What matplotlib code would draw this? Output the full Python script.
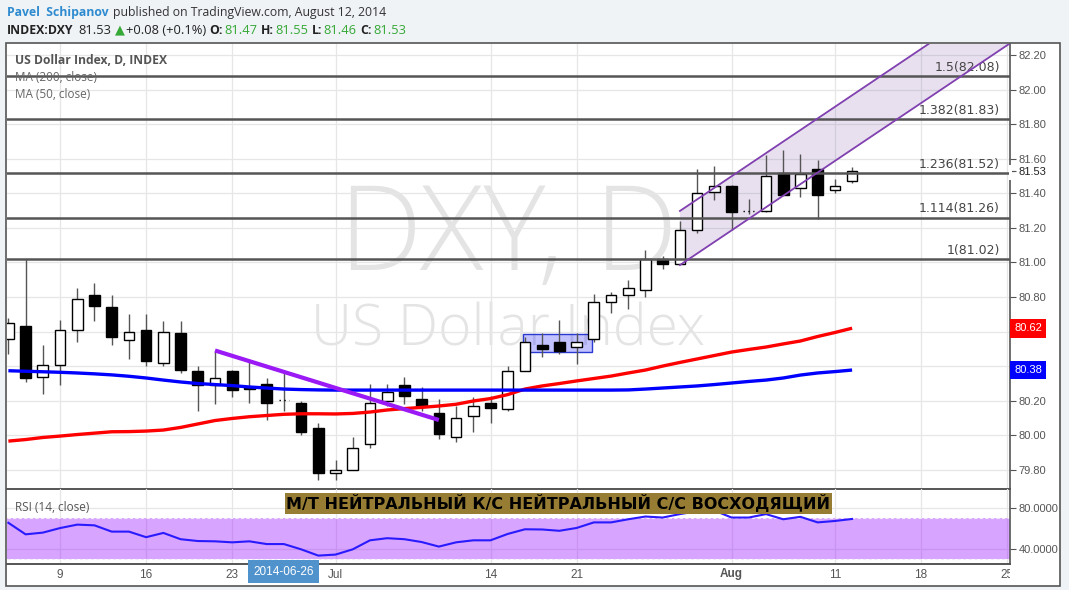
import numpy as np
import pandas as pd
import matplotlib
matplotlib.use("Agg")
import matplotlib.pyplot as plt
from matplotlib.patches import Rectangle, Polygon
from matplotlib.transforms import blended_transform_factory, Bbox, TransformedBbox

W, H = 1069, 590

# ---- data (daily candles, 2014-06-04 .. 2014-08-12) ----
dates = pd.bdate_range("2014-06-04", "2014-08-12")

opens = [80.56, 80.63, 80.34, 80.41, 80.61, 80.81, 80.74, 80.55, 80.61, 80.42,
         80.59, 80.37, 80.29, 80.37, 80.28, 80.30, 80.205, 80.19, 80.04, 79.78,
         79.80, 79.95, 80.20, 80.29, 80.21, 80.13, 79.99, 80.11, 80.19, 80.15,
         80.37, 80.52, 80.54, 80.51, 80.56, 80.77, 80.81, 80.84, 81.02, 80.99,
         81.19, 81.41, 81.44, 81.30, 81.30, 81.52, 81.43, 81.54, 81.42, 81.47]
highs = [80.68, 81.02, 80.52, 80.67, 80.85, 80.88, 80.81, 80.70, 80.70, 80.66,
         80.66, 80.40, 80.49, 80.38, 80.43, 80.33, 80.37, 80.20, 80.07, 79.86,
         79.99, 80.30, 80.30, 80.34, 80.28, 80.21, 80.17, 80.22, 80.23, 80.40,
         80.57, 80.59, 80.67, 80.59, 80.82, 80.83, 80.90, 81.07, 81.04, 81.24,
         81.54, 81.56, 81.45, 81.37, 81.62, 81.65, 81.63, 81.59, 81.48, 81.55]
lows = [80.47, 80.31, 80.24, 80.29, 80.54, 80.66, 80.52, 80.44, 80.40, 80.40,
        80.36, 80.14, 80.18, 80.22, 80.19, 80.09, 80.14, 80.00, 79.74, 79.74,
        79.80, 79.93, 80.17, 80.18, 80.14, 79.98, 79.96, 80.02, 80.07, 80.14,
        80.37, 80.455, 80.47, 80.415, 80.54, 80.71, 80.73, 80.80, 80.96, 80.99,
        81.17, 81.36, 81.19, 81.28, 81.29, 81.39, 81.38, 81.25, 81.40, 81.46]
closes = [80.65, 80.33, 80.41, 80.61, 80.79, 80.75, 80.57, 80.60, 80.43, 80.60,
          80.38, 80.29, 80.33, 80.26, 80.27, 80.19, 80.205, 80.02, 79.78, 79.80,
          79.93, 80.19, 80.25, 80.23, 80.17, 80.01, 80.10, 80.17, 80.16, 80.37,
          80.54, 80.50, 80.49, 80.54, 80.77, 80.81, 80.85, 81.02, 80.99, 81.19,
          81.40, 81.44, 81.29, 81.30, 81.50, 81.39, 81.51, 81.39, 81.44, 81.53]

ma50 = [79.967, 79.976, 79.988, 79.996, 80.005, 80.013, 80.021, 80.022, 80.025, 80.031,
        80.046, 80.066, 80.086, 80.098, 80.108, 80.115, 80.122, 80.125, 80.125, 80.124,
        80.127, 80.135, 80.147, 80.155, 80.162, 80.170, 80.180, 80.199, 80.213, 80.236,
        80.268, 80.286, 80.300, 80.315, 80.329, 80.343, 80.361, 80.378, 80.401, 80.422,
        80.442, 80.462, 80.482, 80.497, 80.511, 80.529, 80.546, 80.572, 80.595, 80.620]
ma200 = [80.374, 80.371, 80.368, 80.365, 80.361, 80.356, 80.350, 80.342, 80.332, 80.320,
         80.309, 80.300, 80.294, 80.288, 80.280, 80.274, 80.268, 80.265, 80.263, 80.262,
         80.262, 80.262, 80.262, 80.262, 80.262, 80.262, 80.262, 80.262, 80.262, 80.262,
         80.262, 80.262, 80.262, 80.262, 80.262, 80.262, 80.263, 80.268, 80.274, 80.280,
         80.286, 80.294, 80.303, 80.312, 80.320, 80.332, 80.349, 80.361, 80.369, 80.378]

rsi = [65.5, 54.1, 55.8, 60.3, 63.7, 63.0, 56.8, 56.8, 51.3, 55.5,
       49.3, 47.5, 47.2, 46.2, 47.2, 44.5, 44.5, 39.3, 33.1, 34.1,
       39.3, 48.2, 50.3, 49.3, 46.5, 42.0, 46.2, 48.2, 48.2, 54.5,
       59.1, 58.9, 57.6, 60.4, 65.9, 65.9, 69.0, 71.7, 70.7, 74.1,
       76.9, 77.6, 70.7, 70.7, 74.1, 69.0, 71.4, 65.9, 67.3, 69.3]

fib_levels = [81.02, 81.26, 81.52, 81.83, 82.08]
fib_labels = ["1(81.02)", "1.114(81.26)", "1.236(81.52)", "1.382(81.83)", "1.5(82.08)"]

# drawings (date, price)
trend_pts = [("2014-06-20", 80.491), ("2014-07-09", 80.089)]
channel_lower = [("2014-07-29", 80.985), 0.0669]   # start point, slope per bar
channel_width = 0.313
box_pts = [("2014-07-16", 80.482), ("2014-07-22", 80.584)]

xtick_dates = ["2014-06-09", "2014-06-16", "2014-06-23", "2014-07-01", "2014-07-14",
               "2014-07-21", "2014-08-01", "2014-08-11", "2014-08-18", "2014-08-25"]
xtick_labels = ["9", "16", "23", "Jul", "14", "21", "Aug", "11", "18", "25"]

# ---------------------------------------------------------------------------
all_days = pd.bdate_range("2014-06-04", "2014-08-29")
def pos(d):
    return all_days.get_loc(pd.Timestamp(d))

x = np.arange(len(dates))
o, h, l, c = map(np.array, (opens, highs, lows, closes))

AX = "Liberation Sans"
fig = plt.figure(figsize=(W / 100, H / 100), dpi=100, facecolor="#eff3f6")

def fx(px):
    return px / W
def fy(py):
    return 1 - py / H

# white chart frame
fig.patches.append(Rectangle((fx(6), fy(586)), fx(1060) - fx(6), fy(43) - fy(586),
                             transform=fig.transFigure, facecolor="white",
                             edgecolor="#555555", lw=1.2, zorder=-5))

ax = fig.add_axes([fx(7), fy(489), fx(1010) - fx(7), fy(43.5) - fy(489)])
rx = fig.add_axes([fx(7), fy(564), fx(1010) - fx(7), fy(489) - fy(564)])
xlim = (-0.08, 58.17)

for a in (ax, rx):
    a.set_xlim(*xlim)
    a.set_facecolor("none")
    a.spines["top"].set_visible(False)
    a.spines["left"].set_visible(False)
    a.spines["right"].set_color("#555555")
    a.spines["bottom"].set_color("#555555")
    a.spines["right"].set_linewidth(1.2)
    a.spines["bottom"].set_linewidth(1.4)
    a.yaxis.tick_right()
    a.set_xticks([pos(d) for d in xtick_dates])
    a.set_xticklabels([])
    a.tick_params(axis="x", length=0)
    a.tick_params(axis="y", direction="out", length=4, width=0.8, color="#555555",
                  labelsize=8, labelcolor="#555555", pad=2)
    a.grid(True, color="#e6e6e6", lw=0.9, zorder=0)
    a.set_axisbelow(True)

# ---- main price panel ----
ax.set_ylim(79.690, 82.2665)
yt = list(np.round(np.arange(79.8, 82.21, 0.2), 2))
ax.set_yticks(yt + [81.53])
# 80.60 / 80.40 sit under the MA price tags, so their text is left out
ax.set_yticklabels(["" if v in (80.6, 80.4) else "%.2f" % v for v in yt] + ["81.53"],
                   family=AX)
ax.get_yticklabels()[-1].set_color("#222222")
ax.yaxis.get_gridlines()[-1].set_visible(False)

# watermark
ax.text(0.5, 0.4916, "DXY, D", transform=ax.transAxes, ha="center", va="baseline",
        fontsize=85, family="Open Sans", fontweight="light", color="#e4e4e4", zorder=0.5)
ax.text(0.5, 0.323, "US Dollar Index", transform=ax.transAxes, ha="center", va="baseline",
        fontsize=41, family="Open Sans", fontweight="light", color="#e4e4e4", zorder=0.5)

# channel fill + box (below candles)
x0 = pos(channel_lower[0][0])
slope = channel_lower[1]
xs = np.array([x0, x0 + 40])
lo = channel_lower[0][1] + slope * (xs - x0)
up = lo + channel_width
ax.add_patch(Polygon([(xs[0], lo[0]), (xs[1], lo[1]), (xs[1], up[1]), (xs[0], up[0])],
                     closed=True, facecolor=(102 / 255, 51 / 255, 153 / 255, 0.15),
                     edgecolor="none", zorder=1))
bx0, by0 = pos(box_pts[0][0]) - 0.1, box_pts[0][1]
bx1, by1 = pos(box_pts[1][0]) - 0.1, box_pts[1][1]
ax.add_patch(Rectangle((bx0, by0), bx1 - bx0, by1 - by0, facecolor=(0, 0, 1, 0.24),
                       edgecolor="#2a3ad0", lw=1.0, zorder=1.5))

# candles
ax.vlines(x, l, h, color="#555555", lw=1.0, zorder=2)
up_c = c > o
dn_c = c < o
dj = c == o
ax.bar(x[up_c], (c - o)[up_c], bottom=o[up_c], width=0.62, color="white",
       edgecolor="black", lw=1.0, zorder=3)
ax.bar(x[dn_c], (o - c)[dn_c], bottom=c[dn_c], width=0.62, color="black",
       edgecolor="black", lw=1.0, zorder=3)
ax.hlines(c[dj], x[dj] - 0.31, x[dj] + 0.31, color="black", lw=1.0,
          linestyles=(0, (1, 2.5)), zorder=3)

# fib levels
tr = blended_transform_factory(ax.transAxes, ax.transData)
for lv, lb in zip(fib_levels, fib_labels):
    ax.axhline(lv, color="#555555", lw=1.8, zorder=3.5)
    ax.text(0.990, lv + 0.012, lb, transform=tr, ha="right", va="bottom",
            fontsize=9, color="#444444", zorder=3.6)

# channel lines
ax.plot(xs, lo, color="#8040b0", lw=1.3, zorder=4)
ax.plot(xs, up, color="#8040b0", lw=1.3, zorder=4)

# moving averages
ax.plot(x, ma50, color="#ff0000", lw=2.4, zorder=5, solid_capstyle="butt")
ax.plot(x, ma200, color="#0000ff", lw=2.4, zorder=5, solid_capstyle="butt")

# trend line
tx = [pos(p[0]) for p in trend_pts]
ty = [p[1] for p in trend_pts]
ax.plot(tx, ty, color="#9b19f5", lw=3.0, zorder=5.5, solid_capstyle="butt")

# price tags on the axis
for val, col in ((ma50[-1], "#ff0000"), (ma200[-1], "#0000ff")):
    ax.annotate("%.2f" % val, xy=(1.0, val), xycoords=tr, xytext=(3.0, 0),
                textcoords="offset points", ha="left", va="center", fontsize=8,
                family=AX, color="white", zorder=6, annotation_clip=False,
                bbox=dict(boxstyle="square,pad=0.4", facecolor=col, edgecolor="none"))
# gap in axis line at last price
fig.patches.append(Rectangle((fx(1008.5), fy(180)), fx(3), fy(165) - fy(180),
                             transform=fig.transFigure, facecolor="white",
                             edgecolor="none", zorder=5))
ax.plot([1.0, 1.0 + 4 / 1003], [closes[-1]] * 2, transform=tr, color="#555555",
        lw=0.8, clip_on=False, zorder=6)

# legend texts
ax.text(8 / 1003, (489 - 60.5) / 445.5, "US Dollar Index, D, INDEX", transform=ax.transAxes,
        fontsize=8.7, family="Open Sans", fontweight="bold", color="#555555",
        va="center", ha="left", zorder=7)
ax.text(8 / 1003, (489 - 77.5) / 445.5, "MA (200, close)", transform=ax.transAxes,
        fontsize=8.5, family="Open Sans", color="#666666", va="center", ha="left", zorder=7)
ax.text(8 / 1003, (489 - 94.5) / 445.5, "MA (50, close)", transform=ax.transAxes,
        fontsize=8.5, family="Open Sans", color="#666666", va="center", ha="left", zorder=7)

# ---- RSI panel ----
rx.set_ylim(24.8, 98.9)
rx.set_yticks([40, 80])
rx.set_yticklabels(["40.0000", "80.0000"], family=AX)
rx.axhspan(30, 70, color=(153 / 255, 21 / 255, 1.0, 0.39), lw=0, zorder=1)
rx.axhline(70, color="#f2eafa", lw=0.8, ls=(0, (3, 2)), zorder=1.2)
rx.axhline(30, color="#f2eafa", lw=0.8, ls=(0, (3, 2)), zorder=1.2)
rx.plot(x, rsi, color="#2a1aff", lw=1.5, zorder=3)
rx.text(8 / 1003, (564 - 507.5) / 75, "RSI (14, close)", transform=rx.transAxes,
        fontsize=8.5, family="Open Sans", color="#555555", va="center", ha="left")

# x labels (clipped at the price axis)
clip = TransformedBbox(Bbox([[0, 0], [fx(1010), 1]]), fig.transFigure)
xtr = blended_transform_factory(rx.transData, fig.transFigure)
for d, lb in zip(xtick_dates, xtick_labels):
    t = rx.text(pos(d), fy(574.5), lb, transform=xtr, ha="center", va="center",
                fontsize=8.5, family=AX, color="#555555",
                fontweight="bold" if lb == "Aug" else "normal", clip_on=False)
    t.set_clip_box(clip)
    t.set_clip_on(True)
rx.text(pos("2014-06-26"), fy(571.7), "2014-06-26", transform=xtr, ha="center",
        va="center", fontsize=8.5, family=AX, color="white", zorder=8, clip_on=False,
        bbox=dict(boxstyle="square,pad=0.45", facecolor="#5092cc", edgecolor="none"))

# signal box
fig.text(fx(558.5), fy(503.5), "М/Т НЕЙТРАЛЬНЫЙ К/С НЕЙТРАЛЬНЫЙ С/С ВОСХОДЯЩИЙ",
         ha="center", va="center", fontsize=11.5, fontweight="bold", color="black",
         family="DejaVu Sans", zorder=10,
         bbox=dict(boxstyle="square,pad=0.12", facecolor="#977d33", edgecolor="none"))

# ---- header ----
renderer = fig.canvas.get_renderer()
def seq_text(xp, yp, parts):
    for s, col, wt, size, gap in parts:
        t = fig.text(fx(xp), fy(yp), s, color=col, fontsize=size, fontweight=wt,
                     family=["Open Sans", "DejaVu Sans"], va="center", ha="left")
        xp += t.get_window_extent(renderer=renderer).width + gap

seq_text(7, 12.5, [("Pavel  Schipanov", "#2e8bd0", "bold", 8.8, 4),
                   ("published on TradingView.com, August 12, 2014", "#333333", "normal", 8.8, 0)])
green = "#35a835"
dark = "#222222"
seq_text(7, 30, [("INDEX:DXY", dark, "bold", 8.8, 5), ("81.53", dark, "normal", 9.3, 3),
                 ("▲", green, "normal", 9.3, 2), ("+0.08 (+0.1%)", dark, "normal", 9.3, 3),
                 ("O:", dark, "bold", 8.8, 1), ("81.47", green, "normal", 9.3, 4),
                 ("H:", dark, "bold", 8.8, 1), ("81.55", green, "normal", 9.3, 4),
                 ("L:", dark, "bold", 8.8, 1), ("81.46", green, "normal", 9.3, 4),
                 ("C:", dark, "bold", 8.8, 1), ("81.53", green, "normal", 9.3, 0)])

fig.savefig("out.png", dpi=100, facecolor=fig.get_facecolor())
